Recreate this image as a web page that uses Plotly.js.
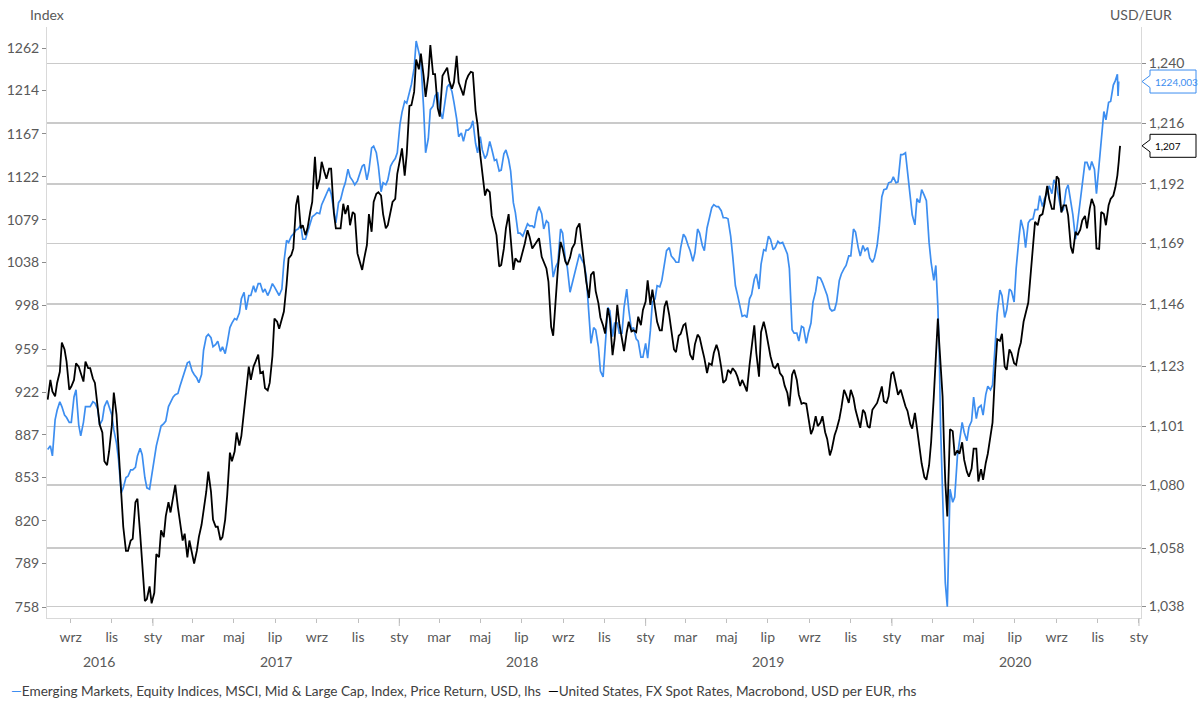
<!DOCTYPE html>
<html>
<head>
<meta charset="utf-8">
<script src="https://cdn.plot.ly/plotly-3.0.1.min.js"></script>
<style>
html,body{margin:0;padding:0;background:#fff;}
#chart{width:1204px;height:702px;}
</style>
</head>
<body>
<div id="chart"></div>
<script>
// ---------------- DATA ----------------
// Friday readings
const weekDates = [
'2016-07-29','2016-08-05','2016-08-12','2016-08-19','2016-08-26','2016-09-02','2016-09-09','2016-09-16','2016-09-23','2016-09-30',
'2016-10-07','2016-10-14','2016-10-21','2016-10-28','2016-11-04','2016-11-11','2016-11-18','2016-11-25','2016-12-02','2016-12-09',
'2016-12-16','2016-12-23','2016-12-30','2017-01-06','2017-01-13','2017-01-20','2017-01-27','2017-02-03','2017-02-10','2017-02-17',
'2017-02-24','2017-03-03','2017-03-10','2017-03-17','2017-03-24','2017-03-31','2017-04-07','2017-04-14','2017-04-21','2017-04-28',
'2017-05-05','2017-05-12','2017-05-19','2017-05-26','2017-06-02','2017-06-09','2017-06-16','2017-06-23','2017-06-30','2017-07-07',
'2017-07-14','2017-07-21','2017-07-28','2017-08-04','2017-08-11','2017-08-18','2017-08-25','2017-09-01','2017-09-08','2017-09-15',
'2017-09-22','2017-09-29','2017-10-06','2017-10-13','2017-10-20','2017-10-27','2017-11-03','2017-11-10','2017-11-17','2017-11-24',
'2017-12-01','2017-12-08','2017-12-15','2017-12-22','2017-12-29','2018-01-05','2018-01-12','2018-01-19','2018-01-26','2018-02-02',
'2018-02-09','2018-02-16','2018-02-23','2018-03-02','2018-03-09','2018-03-16','2018-03-23','2018-03-30','2018-04-06','2018-04-13',
'2018-04-20','2018-04-27','2018-05-04','2018-05-11','2018-05-18','2018-05-25','2018-06-01','2018-06-08','2018-06-15','2018-06-22',
'2018-06-29','2018-07-06','2018-07-13','2018-07-20','2018-07-27','2018-08-03','2018-08-10','2018-08-17','2018-08-24','2018-08-31',
'2018-09-07','2018-09-14','2018-09-21','2018-09-28','2018-10-05','2018-10-12','2018-10-19','2018-10-26','2018-11-02','2018-11-09',
'2018-11-16','2018-11-23','2018-11-30','2018-12-07','2018-12-14','2018-12-21','2018-12-28','2019-01-04','2019-01-11','2019-01-18',
'2019-01-25','2019-02-01','2019-02-08','2019-02-15','2019-02-22','2019-03-01','2019-03-08','2019-03-15','2019-03-22','2019-03-29',
'2019-04-05','2019-04-12','2019-04-19','2019-04-26','2019-05-03','2019-05-10','2019-05-17','2019-05-24','2019-05-31','2019-06-07',
'2019-06-14','2019-06-21','2019-06-28','2019-07-05','2019-07-12','2019-07-19','2019-07-26','2019-08-02','2019-08-09','2019-08-16',
'2019-08-23','2019-08-30','2019-09-06','2019-09-13','2019-09-20','2019-09-27','2019-10-04','2019-10-11','2019-10-18','2019-10-25',
'2019-11-01','2019-11-08','2019-11-15','2019-11-22','2019-11-29','2019-12-06','2019-12-13','2019-12-20','2019-12-27','2020-01-03',
'2020-01-10','2020-01-17','2020-01-24','2020-01-31','2020-02-07','2020-02-14','2020-02-21','2020-02-28','2020-03-06',
'2020-03-09','2020-03-11','2020-03-13','2020-03-16','2020-03-18','2020-03-20','2020-03-23','2020-03-25','2020-03-27',
'2020-04-03','2020-04-10','2020-04-17','2020-04-24','2020-05-01','2020-05-08','2020-05-15','2020-05-22',
'2020-05-29','2020-06-05','2020-06-12','2020-06-19','2020-06-26','2020-07-03','2020-07-10','2020-07-17','2020-07-24','2020-07-31',
'2020-08-07','2020-08-14','2020-08-21','2020-08-28','2020-09-04','2020-09-11','2020-09-18','2020-09-25','2020-10-02','2020-10-09',
'2020-10-16','2020-10-23','2020-10-30','2020-11-06','2020-11-13','2020-11-20','2020-11-27',
'2020-11-30','2020-12-01','2020-12-02','2020-12-03','2020-12-04'
];

// Emerging Markets, MSCI index (left axis) at weekDates
const emWeekly = [
875,870,907,910,901,897,924,886,910,910,
913,895,910,909,891,867,845,854,859,870,
871,845,854,878,894,898,914,920,927,940,
948,937,930,958,972,961,966,961,964,982,
985,1004,994,1007,1010,1018,1013,1011,1015,1007,
1038,1057,1065,1070,1060,1066,1082,1086,1094,1105,
1105,1076,1099,1116,1122,1114,1124,1135,1129,1154,
1133,1116,1119,1137,1147,1190,1200,1221,1270,1247,
1147,1193,1208,1193,1197,1221,1201,1164,1159,1171,
1181,1147,1150,1145,1151,1140,1129,1150,1128,1086,
1066,1068,1073,1071,1092,1070,1076,1024,1038,1066,
1033,1018,1038,1041,1025,964,976,940,960,993,
982,973,996,994,978,966,952,951,1001,1016,
1021,1049,1044,1038,1052,1062,1049,1047,1066,1049,
1079,1094,1092,1081,1080,1044,1008,988,987,1008,
1027,1036,1049,1060,1052,1056,1052,1032,973,966,
978,973,1001,1024,1019,1007,993,1001,1027,1035,
1044,1067,1044,1049,1042,1042,1071,1109,1116,1122,
1117,1145,1128,1084,1100,1109,1098,1038,1035,
997,958,894,834,816,775,758.2,816,844,
838,880,889,893,918,909,903,927,
928,991,1007,994,1011,1032,1079,1052,1079,1089,
1103,1100,1113,1119,1102,1089,1114,1084,1076,1116,
1137,1138,1105,1157,1182,1202,1225,
1232,1208,1224.003,null,null
];

// USD per EUR spot rate (right axis) at weekDates
const fxWeekly = [
1.1107,1.1137,1.1168,1.1317,1.1246,1.1155,1.1240,1.1204,1.1246,1.1222,
1.1168,1.1017,1.0885,1.0920,1.1133,1.0930,1.0654,1.0570,1.0612,1.0752,
1.0537,1.0405,1.0390,1.0559,1.0642,1.0691,1.0704,1.0801,1.0679,1.0630,
1.0606,1.0526,1.0618,1.0704,1.0848,1.0679,1.0654,1.0618,1.0764,1.0885,
1.0988,1.0976,1.1137,1.1179,1.1246,1.1204,1.1149,1.1168,1.1406,1.1368,
1.1432,1.1633,1.1671,1.1875,1.1760,1.1748,1.1850,1.1900,1.2007,1.1940,
1.1980,1.1748,1.1748,1.1803,1.1760,1.1803,1.1621,1.1633,1.1803,1.1850,
1.1888,1.1803,1.1760,1.1850,1.1960,1.2060,1.2037,1.2232,1.2416,1.2440,
1.2265,1.2475,1.2357,1.2186,1.2363,1.2330,1.2324,1.2324,1.2271,1.2350,
1.2363,1.2153,1.1967,1.1900,1.1796,1.1722,1.1608,1.1748,1.1722,1.1633,
1.1621,1.1690,1.1716,1.1684,1.1710,1.1621,1.1545,1.1342,1.1595,1.1671,
1.1608,1.1671,1.1748,1.1696,1.1545,1.1570,1.1509,1.1410,1.1350,1.1406,
1.1329,1.1387,1.1285,1.1394,1.1362,1.1413,1.1438,1.1550,1.1515,1.1394,
1.1362,1.1473,1.1355,1.1281,1.1349,1.1387,1.1272,1.1310,1.1336,1.1259,
1.1240,1.1278,1.1285,1.1168,1.1216,1.1222,1.1191,1.1179,1.1137,1.1304,
1.1278,1.1355,1.1362,1.1266,1.1222,1.1204,1.1158,1.1083,1.1216,1.1125,
1.1095,1.1047,1.1000,1.1011,1.1047,1.0965,1.0930,1.1000,1.1077,1.1125,
1.1143,1.1070,1.1005,1.1059,1.1005,1.1083,1.1119,1.1101,1.1119,1.1209,
1.1125,1.1113,1.1066,1.1002,1.1005,1.0877,1.0819,1.0953,1.1266,
1.1406,1.1317,1.1240,1.1119,1.0953,1.0813,1.0690,1.0836,1.1000,
1.0906,1.0912,1.0890,1.0830,1.0930,1.0813,1.0819,1.0912,
1.1024,1.1329,1.1349,1.1216,1.1278,1.1234,1.1317,1.1426,1.1558,1.1773,
1.1796,1.1843,1.1862,1.1823,1.1940,1.1837,1.1798,1.1652,1.1722,1.1779,
1.1748,1.1862,1.1671,1.1811,1.1760,1.1862,1.1907,
1.1954,1.1974,1.2007,1.2040,1.207
];

// Tuesday readings
const midDates = [
'2016-08-02','2016-08-09','2016-08-16','2016-08-23','2016-08-30','2016-09-06','2016-09-13','2016-09-20','2016-09-27','2016-10-04',
'2016-10-11','2016-10-18','2016-10-25','2016-11-01','2016-11-08','2016-11-15','2016-11-22','2016-11-29','2016-12-06','2016-12-13',
'2016-12-20','2016-12-27','2017-01-03','2017-01-10','2017-01-17','2017-01-24','2017-01-31','2017-02-07','2017-02-14','2017-02-21',
'2017-02-28','2017-03-07','2017-03-14','2017-03-21','2017-03-28','2017-04-04','2017-04-11','2017-04-18','2017-04-25','2017-05-02',
'2017-05-09','2017-05-16','2017-05-23','2017-05-30','2017-06-06','2017-06-13','2017-06-20','2017-06-27','2017-07-04','2017-07-11',
'2017-07-18','2017-07-25','2017-08-01','2017-08-08','2017-08-15','2017-08-22','2017-08-29','2017-09-05','2017-09-12','2017-09-19',
'2017-09-26','2017-10-03','2017-10-10','2017-10-17','2017-10-24','2017-10-31','2017-11-07','2017-11-14','2017-11-21','2017-11-28',
'2017-12-05','2017-12-12','2017-12-19','2017-12-26','2018-01-02','2018-01-09','2018-01-16','2018-01-23','2018-01-30','2018-02-06',
'2018-02-13','2018-02-20','2018-02-27','2018-03-06','2018-03-13','2018-03-20','2018-03-27','2018-04-03','2018-04-10','2018-04-17',
'2018-04-24','2018-05-01','2018-05-08','2018-05-15','2018-05-22','2018-05-29','2018-06-05','2018-06-12','2018-06-19','2018-06-26',
'2018-07-03','2018-07-10','2018-07-17','2018-07-24','2018-07-31','2018-08-07','2018-08-14','2018-08-21','2018-08-28','2018-09-04',
'2018-09-11','2018-09-18','2018-09-25','2018-10-02','2018-10-09','2018-10-16','2018-10-23','2018-10-30','2018-11-06','2018-11-13',
'2018-11-20','2018-11-27','2018-12-04','2018-12-11','2018-12-18','2018-12-25','2019-01-01','2019-01-08','2019-01-15','2019-01-22',
'2019-01-29','2019-02-05','2019-02-12','2019-02-19','2019-02-26','2019-03-05','2019-03-12','2019-03-19','2019-03-26','2019-04-02',
'2019-04-09','2019-04-16','2019-04-23','2019-04-30','2019-05-07','2019-05-14','2019-05-21','2019-05-28','2019-06-04','2019-06-11',
'2019-06-18','2019-06-25','2019-07-02','2019-07-09','2019-07-16','2019-07-23','2019-07-30','2019-08-06','2019-08-13','2019-08-20',
'2019-08-27','2019-09-03','2019-09-10','2019-09-17','2019-09-24','2019-10-01','2019-10-08','2019-10-15','2019-10-22','2019-10-29',
'2019-11-05','2019-11-12','2019-11-19','2019-11-26','2019-12-03','2019-12-10','2019-12-17','2019-12-24','2019-12-31','2020-01-07',
'2020-01-14','2020-01-21','2020-01-28','2020-02-04','2020-02-11','2020-02-18','2020-02-25','2020-03-03',
'2020-03-31','2020-04-07','2020-04-14','2020-04-21','2020-04-28','2020-05-05','2020-05-12','2020-05-19','2020-05-26',
'2020-06-02','2020-06-09','2020-06-16','2020-06-23','2020-06-30','2020-07-07','2020-07-14','2020-07-21','2020-07-28','2020-08-04',
'2020-08-11','2020-08-18','2020-08-25','2020-09-01','2020-09-08','2020-09-15','2020-09-22','2020-09-29','2020-10-06','2020-10-13',
'2020-10-20','2020-10-27','2020-11-03','2020-11-10','2020-11-17','2020-11-24'
];

const emMidweek = [
878,899,914,903,897,918,895,897,910,914,
908,899,915,903,880,841,853,859,861,876,
853,844,867,887,896,910,918,921,935,947,
940,934,937,970,969,963,957,955,978,986,
991,1010,1007,1016,1018,1010,1007,1018,1011,1013,
1059,1063,1069,1074,1060,1076,1084,1085,1100,1111,
1086,1096,1110,1130,1118,1118,1133,1119,1152,1147,
1107,1114,1133,1141,1177,1202,1212,1239,1257,1195,
1162,1197,1212,1183,1218,1213,1183,1168,1171,1174,
1157,1164,1141,1159,1139,1128,1146,1140,1096,1066,
1063,1075,1073,1086,1085,1078,1044,1034,1070,1041,
1010,1028,1046,1036,991,978,961,935,996,970,
982,973,1013,976,968,952,964,975,1004,1015,
1035,1052,1041,1038,1065,1054,1039,1070,1054,1071,
1091,1092,1088,1081,1063,1016,997,989,1004,1022,
1013,1050,1063,1050,1058,1057,1046,976,973,979,
964,982,1011,1023,1012,995,994,1021,1032,1044,
1070,1052,1054,1052,1038,1054,1102,1110,1117,1116,
1145,1147,1107,1074,1096,1103,1057,1021,
834,870,897,882,898,900,911,920,924,
966,1012,987,1013,1001,1060,1069,1076,1080,1089,
1092,1105,1105,1113,1087,1109,1098,1060,1098,1137,
1129,1130,1137,1191,1201,1220
];

const fxMidweek = [
1.1179,1.1119,1.1209,1.1291,1.1143,1.1179,1.1228,1.1173,1.1222,1.1184,
1.1083,1.0988,1.0871,1.1011,1.1053,1.0752,1.0570,1.0606,1.0740,1.0630,
1.0398,1.0448,1.0426,1.0548,1.0618,1.0740,1.0764,1.0722,1.0606,1.0548,
1.0560,1.0570,1.0661,1.0777,1.0777,1.0654,1.0608,1.0679,1.0916,1.0920,
1.0941,1.1059,1.1228,1.1228,1.1272,1.1209,1.1141,1.1266,1.1394,1.1406,
1.1534,1.1646,1.1837,1.1748,1.1722,1.1811,1.2027,1.1940,1.1967,1.1980,
1.1809,1.1748,1.1843,1.1837,1.1811,1.1652,1.1589,1.1684,1.1735,1.1882,
1.1875,1.1748,1.1811,1.1862,1.2015,1.1953,1.2229,1.2285,1.2376,1.2350,
1.2350,1.2357,1.2220,1.2350,1.2383,1.2298,1.2431,1.2289,1.2330,1.2366,
1.2210,1.2033,1.1875,1.1888,1.1754,1.1602,1.1671,1.1803,1.1589,1.1621,
1.1659,1.1741,1.1671,1.1696,1.1639,1.1595,1.1375,1.1483,1.1696,1.1621,
1.1636,1.1690,1.1767,1.1608,1.1483,1.1583,1.1464,1.1380,1.1445,1.1270,
1.1457,1.1329,1.1355,1.1358,1.1355,1.1381,1.1470,1.1457,1.1445,1.1362,
1.1451,1.1419,1.1291,1.1342,1.1381,1.1323,1.1253,1.1346,1.1291,1.1204,
1.1234,1.1308,1.1225,1.1179,1.1204,1.1209,1.1157,1.1156,1.1234,1.1381,
1.1191,1.1394,1.1298,1.1228,1.1240,1.1191,1.1131,1.1198,1.1179,1.1092,
1.1092,1.0982,1.1047,1.1024,1.0989,1.0906,1.0978,1.1037,1.1143,1.1095,
1.1113,1.1029,1.1070,1.1011,1.1070,1.1095,1.1155,1.1095,1.1200,1.1159,
1.1143,1.1083,1.1019,1.1059,1.0935,1.0829,1.0871,1.1119,
1.0993,1.0924,1.0953,1.0848,1.0859,1.0930,1.0857,1.0879,1.0976,
1.1216,1.1323,1.1228,1.1291,1.1240,1.1291,1.1394,1.1466,1.1690,1.1760,
1.1803,1.1913,1.1823,1.1950,1.1809,1.1837,1.1677,1.1735,1.1743,1.1796,
1.1823,1.1833,1.1669,1.1803,1.1837,1.1875
];

const seriesNames = [
  'Emerging Markets, Equity Indices, MSCI, Mid & Large Cap, Index, Price Return, USD, lhs',
  'United States, FX Spot Rates, Macrobond, USD per EUR, rhs'
];

const monthTickDates = [
'2016-09-01','2016-11-01',
'2017-01-01','2017-03-01','2017-05-01','2017-07-01','2017-09-01','2017-11-01',
'2018-01-01','2018-03-01','2018-05-01','2018-07-01','2018-09-01','2018-11-01',
'2019-01-01','2019-03-01','2019-05-01','2019-07-01','2019-09-01','2019-11-01',
'2020-01-01','2020-03-01','2020-05-01','2020-07-01','2020-09-01','2020-11-01',
'2021-01-01'
];
const monthTickLabels = [
'wrz','lis',
'sty','mar','maj','lip','wrz','lis',
'sty','mar','maj','lip','wrz','lis',
'sty','mar','maj','lip','wrz','lis',
'sty','mar','maj','lip','wrz','lis',
'sty'
];
const yearLabels = ['2016','2017','2018','2019','2020'];
const yearLabelDates = ['2016-10-13','2017-07-02','2018-07-02','2019-07-02','2020-07-02'];
const yearStartDates = ['2017-01-01','2018-01-01','2019-01-01','2020-01-01','2021-01-01'];

const leftTicks = [758,789,820,853,887,922,959,998,1038,1079,1122,1167,1214,1262];
const rightTicks = [1.038,1.058,1.080,1.101,1.123,1.146,1.169,1.192,1.216,1.240];
const rightTickLabels = ['1,038','1,058','1,080','1,101','1,123','1,146','1,169','1,192','1,216','1,240'];

const lastEmLabel = '1224,003';
const lastFxLabel = '1,207';

// ---------------- MERGE (chronological) ----------------
const rows = weekDates.map((d,i)=>[d, emWeekly[i], fxWeekly[i]])
  .concat(midDates.map((d,i)=>[d, emMidweek[i], fxMidweek[i]]));
rows.sort((a,b)=> a[0] < b[0] ? -1 : (a[0] > b[0] ? 1 : 0));
const allDates = rows.map(r=>r[0]);
const emAll = rows.map(r=>r[1]);
const fxAll = rows.map(r=>r[2]);

// ---------------- STYLE ----------------
const BLUE = '#3d8ef0';
const BLACK = '#000000';
const FONT = 'Lato, "Open Sans", sans-serif';
const TXT = '#595959';

const leftRange = [2.875312, 3.109376];
const rightRange = [0.0145344, 0.0986080];

function lastValid(arr){ for(let i=arr.length-1;i>=0;i--){ if(arr[i]!==null) return arr[i]; } return null; }
function paperY(v, r){ return (Math.log10(v)-r[0])/(r[1]-r[0]); }

const plotH = 591, plotW = 1094;
const pxX = px => (px-47)/plotW;
const pxY = py => (618-py)/plotH;

function callout(yp, color){
  const xt = pxX(1142), xb = pxX(1150), xr = pxX(1196);
  const h = 11.5/plotH, n = 6/plotH;
  return {
    type:'path', xref:'paper', yref:'paper',
    path:`M ${xt} ${yp} L ${xb} ${yp+n} L ${xb} ${yp+h} L ${xr} ${yp+h} L ${xr} ${yp-h} L ${xb} ${yp-h} L ${xb} ${yp-n} Z`,
    line:{color:color,width:1}, fillcolor:'#ffffff', layer:'above'
  };
}

const emY = paperY(lastValid(emWeekly), leftRange);
const fxY = paperY(lastValid(fxWeekly), rightRange);

const traces = [
  {x:allDates, y:emAll, name:seriesNames[0], type:'scatter', mode:'lines',
   line:{color:BLUE, width:1.7}, yaxis:'y', connectgaps:false},
  {x:allDates, y:fxAll, name:seriesNames[1], type:'scatter', mode:'lines',
   line:{color:BLACK, width:1.8}, yaxis:'y2'}
];

const shapes = [callout(emY, BLUE), callout(fxY, BLACK)];
yearStartDates.forEach(d => shapes.push({
  type:'line', xref:'x', yref:'paper', x0:d, x1:d, y0:0, y1:-8/plotH,
  line:{color:'#bfbfbf', width:1}
}));

const annotations = [
  {text:'Index', xref:'paper', yref:'paper', x:0, y:pxY(15), xanchor:'center', yanchor:'middle',
   showarrow:false, font:{family:FONT, size:14, color:TXT}},
  {text:'USD/EUR', xref:'paper', yref:'paper', x:1, y:pxY(15), xanchor:'center', yanchor:'middle',
   showarrow:false, font:{family:FONT, size:14, color:TXT}},
  {text:lastEmLabel, xref:'paper', yref:'paper', x:pxX(1153), y:emY, xanchor:'left', yanchor:'middle',
   showarrow:false, font:{family:FONT, size:10, color:BLUE}},
  {text:lastFxLabel, xref:'paper', yref:'paper', x:pxX(1153), y:fxY, xanchor:'left', yanchor:'middle',
   showarrow:false, font:{family:FONT, size:10, color:BLACK}},
  {text:`<span style="color:${BLUE}">—</span>${seriesNames[0]}  <span style="color:${BLACK}">—</span>${seriesNames[1]}`,
   xref:'paper', yref:'paper', x:pxX(9), y:pxY(691), xanchor:'left', yanchor:'middle',
   showarrow:false, font:{family:FONT, size:13.6, color:'#404040'}}
];
yearLabels.forEach((t,i) => annotations.push({
  text:t, xref:'x', yref:'paper', x:yearLabelDates[i], y:pxY(661), xanchor:'center', yanchor:'middle',
  showarrow:false, font:{family:FONT, size:14, color:TXT}
}));

const layout = {
  width:1204, height:702,
  margin:{l:47, r:63, t:27, b:84, pad:0},
  paper_bgcolor:'#ffffff', plot_bgcolor:'#ffffff',
  showlegend:false, hovermode:false,
  font:{family:FONT, size:14, color:TXT},
  xaxis:{
    type:'date', range:['2016-07-28','2021-01-04'],
    tickmode:'array', tickvals:monthTickDates, ticktext:monthTickLabels,
    ticks:'outside', ticklen:4, tickcolor:'#bfbfbf', tickwidth:1,
    showline:true, linecolor:'#d9d9d9', linewidth:1,
    showgrid:false, zeroline:false,
    tickfont:{family:FONT, size:14, color:TXT}, ticklabelstandoff:2
  },
  yaxis:{
    type:'log', range:leftRange,
    tickmode:'array', tickvals:leftTicks, ticktext:leftTicks.map(String),
    ticks:'outside', ticklen:4, tickcolor:'#8c8c8c', tickwidth:1,
    showline:true, linecolor:'#d9d9d9', linewidth:1,
    showgrid:false, zeroline:false,
    tickfont:{family:FONT, size:14, color:TXT}
  },
  yaxis2:{
    type:'log', range:rightRange, overlaying:'y', side:'right',
    tickmode:'array', tickvals:rightTicks, ticktext:rightTickLabels,
    ticks:'outside', ticklen:4, tickcolor:'#8c8c8c', tickwidth:1,
    showline:true, linecolor:'#d9d9d9', linewidth:1,
    showgrid:true, gridcolor:'#cacaca', gridwidth:1.5, zeroline:false,
    tickfont:{family:FONT, size:14, color:TXT}
  },
  shapes:shapes,
  annotations:annotations
};

Plotly.newPlot('chart', traces, layout, {staticPlot:true, displayModeBar:false});
</script>
</body>
</html>
